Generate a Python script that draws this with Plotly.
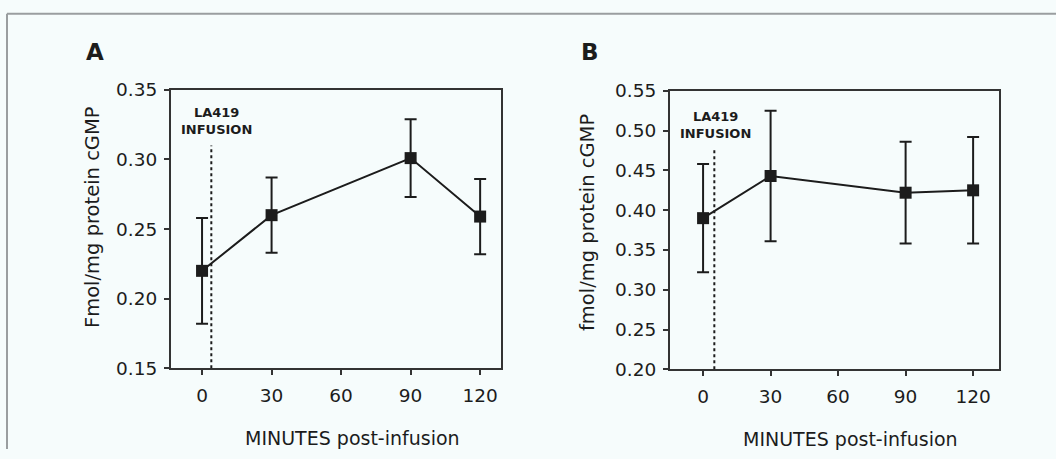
import plotly.graph_objects as go

# ---- data ----
minutes = [0, 30, 90, 120]
a_mean = [0.220, 0.260, 0.301, 0.259]
a_err = [0.038, 0.027, 0.028, 0.027]
b_mean = [0.390, 0.443, 0.422, 0.425]
b_err = [0.068, 0.082, 0.064, 0.067]
x_ticks = [0, 30, 60, 90, 120]
a_yticks = [0.15, 0.20, 0.25, 0.30, 0.35]
b_yticks = [0.20, 0.25, 0.30, 0.35, 0.40, 0.45, 0.50, 0.55]
infusion_a = [4, 0.15, 0.31]
infusion_b = [5, 0.20, 0.478]

W, H = 1056, 459
BG = "#f6fcfc"
INK = "#1c1c1c"
FONT = "DejaVu Sans, Verdana, sans-serif"

# the captured picture shows the page slightly squeezed vertically;
# map wanted picture rows to page rows
Y_OFF, Y_SCALE = 11.2, 0.953

def px(x):
    return x / W

def py(y):
    return 1 - ((y - Y_OFF) / Y_SCALE) / H

fig = go.Figure()

for mean, err, xa, ya in [(a_mean, a_err, "x", "y"), (b_mean, b_err, "x2", "y2")]:
    fig.add_trace(go.Scatter(
        x=minutes, y=mean, xaxis=xa, yaxis=ya, mode="lines+markers",
        line=dict(color=INK, width=2),
        marker=dict(symbol="square", size=12, color=INK),
        error_y=dict(type="data", array=err, visible=True, color=INK,
                     thickness=2, width=6),
        showlegend=False, cliponaxis=False,
    ))

axis_common = dict(showline=True, linecolor="#333333", linewidth=2, mirror=True,
                   ticks="outside", ticklen=5, tickwidth=2, tickcolor="#333333",
                   showgrid=False, zeroline=False,
                   tickfont=dict(family=FONT, size=18.5, color=INK))

fig.update_layout(
    width=W, height=H, margin=dict(l=0, r=0, t=0, b=0),
    paper_bgcolor=BG, plot_bgcolor=BG,
    xaxis=dict(domain=[px(171), px(501)], range=[-13.4, 129], tickvals=x_ticks,
               anchor="y", ticklabelstandoff=5, **axis_common),
    yaxis=dict(domain=[py(368), py(90)], range=[0.15, 0.35], tickvals=a_yticks,
               tickformat=".2f", anchor="x", ticklabelstandoff=3, **axis_common),
    xaxis2=dict(domain=[px(670), px(999)], range=[-14.7, 131.5], tickvals=x_ticks,
                anchor="y2", ticklabelstandoff=5, **axis_common),
    yaxis2=dict(domain=[py(369), py(91)], range=[0.20, 0.55], tickvals=b_yticks,
                tickformat=".2f", anchor="x2", ticklabelstandoff=3, **axis_common),
)

# infusion markers (dashed vertical lines)
for (xv, y0, y1), xr, yr in [(infusion_a, "x", "y"), (infusion_b, "x2", "y2")]:
    fig.add_shape(type="line", x0=xv, x1=xv, y0=y0, y1=y1, xref=xr, yref=yr,
                  line=dict(color=INK, width=2, dash="3px,3px"))

ann = []
# panel letters
ann.append(dict(x=px(95), y=py(52), text="<b>A</b>", font=dict(size=23)))
ann.append(dict(x=px(590), y=py(52), text="<b>B</b>", font=dict(size=23)))
# infusion labels
ann.append(dict(x=px(216), y=py(121), text="<b>LA419<br>INFUSION</b>",
                font=dict(size=13)))
ann.append(dict(x=px(715), y=py(125), text="<b>LA419<br>INFUSION</b>",
                font=dict(size=13)))
# axis titles
ann.append(dict(x=px(352), y=py(438), text="MINUTES post-infusion", font=dict(size=19)))
ann.append(dict(x=px(850), y=py(439), text="MINUTES post-infusion", font=dict(size=19)))
ann.append(dict(x=px(92), y=py(217), text="Fmol/mg protein cGMP", textangle=-90,
                font=dict(size=19.5)))
ann.append(dict(x=px(587), y=py(222), text="fmol/mg protein cGMP", textangle=-90,
                font=dict(size=19.5)))
for a in ann:
    a.update(xref="paper", yref="paper", showarrow=False,
             xanchor="center", yanchor="middle")
    a["font"].update(family=FONT, color=INK)
    fig.add_annotation(**a)

# scanned page frame
fig.add_shape(type="line", xref="paper", yref="paper", x0=px(7), x1=1,
              y0=py(14), y1=py(14), line=dict(color="#9a9ea0", width=2))
fig.add_shape(type="line", xref="paper", yref="paper", x0=px(7), x1=px(7),
              y0=py(14), y1=0, line=dict(color="#9a9ea0", width=2))

fig.write_html(
    "out.html",
    config={"displayModeBar": False},
    post_script=(
        "var d=document.getElementById('{plot_id}');"
        "d.style.position='fixed';d.style.top='0px';d.style.left='0px';"
        "document.documentElement.style.margin='0';document.body.style.margin='0';"
        "document.documentElement.style.overflow='hidden';"
        "document.body.style.overflow='hidden';"
        "document.documentElement.style.background='" + BG + "';"
        "document.body.style.background='" + BG + "';"
    ),
)
